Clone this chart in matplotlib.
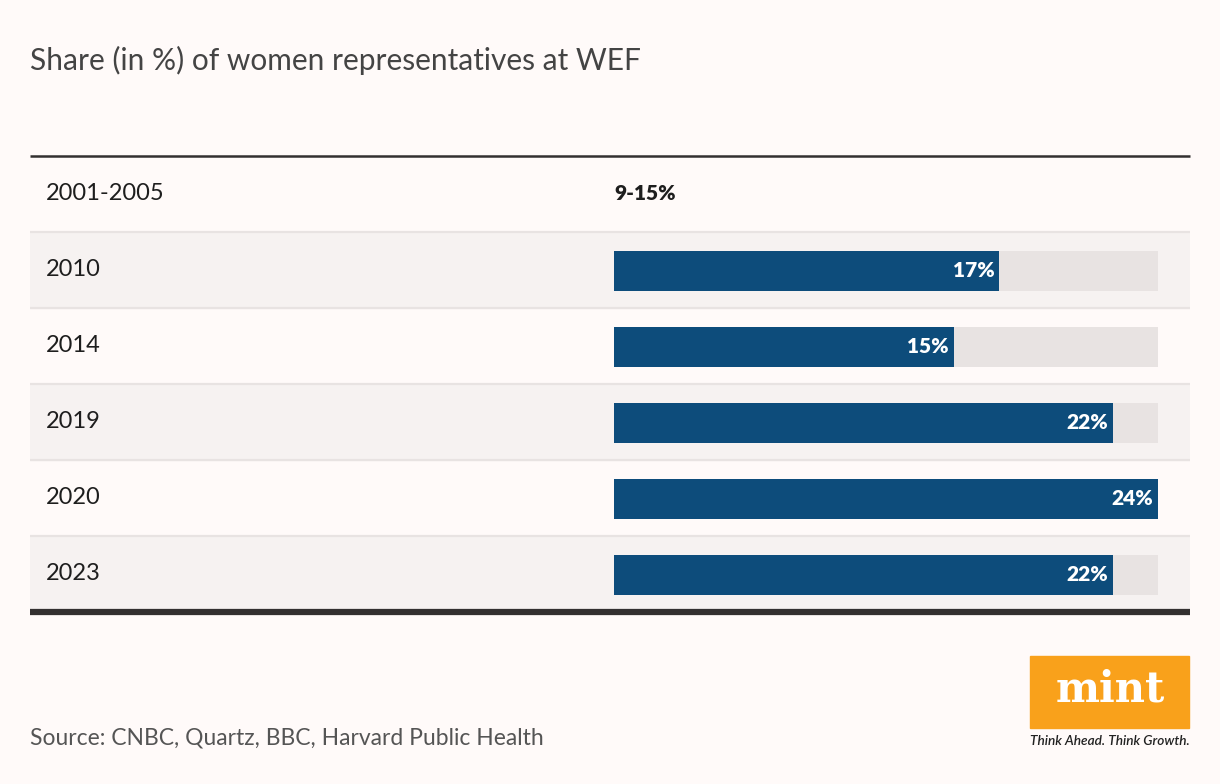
import matplotlib
matplotlib.use("Agg")
from matplotlib import pyplot as plt
from matplotlib.patches import Rectangle

years = ["2001-2005", "2010", "2014", "2019", "2020", "2023"]
shares = [None, 17, 15, 22, 24, 22]
value_labels = ["9-15%", "17%", "15%", "22%", "24%", "22%"]
scale_max = 24

bg = "#fffaf9"
shade = "#f6f2f1"
track = "#e8e3e2"
blue = "#0d4c7b"
dark = "#333030"

W, H = 1220, 784
fig = plt.figure(figsize=(W / 100, H / 100), dpi=100, facecolor=bg)

# table area in pixels
left_px, right_px, top_px, bot_px = 30, 1190, 156, 612
ax = fig.add_axes([left_px / W, 1 - bot_px / H, (right_px - left_px) / W, (bot_px - top_px) / H])
ax.set_facecolor(bg)

# map 0..scale_max onto 614..1158 px
bar0, bar1 = 614, 1158
ppu = (bar1 - bar0) / scale_max
ax.set_xlim(-(bar0 - left_px) / ppu, (right_px - bar0) / ppu)
n = len(years)
ax.set_ylim(n, 0)
ax.axis("off")

for i, (yr, val, lab) in enumerate(zip(years, shares, value_labels)):
    if i % 2 == 1:
        ax.axhspan(i, i + 1, color=shade, zorder=0)
    if i > 0:
        ax.axhline(i, color=track, lw=1.6, zorder=1, solid_capstyle="butt")
    yc = i + 0.5
    ax.text(16 / (right_px - left_px), yc, yr, transform=ax.get_yaxis_transform(),
            ha="left", va="center", fontsize=17, family="Lato", color="#1e1e1e")
    if val is None:
        ax.text(0, yc, lab, ha="left", va="center", fontsize=15, family="Lato",
                weight="heavy", color="#1e1e1e")
    else:
        ax.barh(yc + 0.01, scale_max, height=40 / 76, left=0, color=track, zorder=2)
        ax.barh(yc + 0.01, val, height=40 / 76, left=0, color=blue, zorder=3)
        ax.text(val - 5 / ppu, yc + 0.01, lab, ha="right", va="center", fontsize=15,
                family="Lato", weight="heavy", color="white", zorder=4)

ax.axhline(0, color=dark, lw=1.8, zorder=5, clip_on=False, solid_capstyle="butt")
ax.axhline(n, color=dark, lw=4.5, zorder=5, clip_on=False, solid_capstyle="butt")

fig.text(30 / W, 1 - 60 / H, "Share (in %) of women representatives at WEF", ha="left",
         va="center", fontsize=21.5, family="Lato", color="#444444")
fig.text(30 / W, 1 - 738 / H, "Source: CNBC, Quartz, BBC, Harvard Public Health", ha="left",
         va="center", fontsize=16.5, family="Lato", color="#555555")

# mint logo
fig.patches.append(Rectangle((1030 / W, 1 - 728 / H), 159 / W, 72 / H,
                             transform=fig.transFigure, color="#f9a11b"))
fig.text(1110 / W, 1 - 689 / H, "mint", ha="center", va="center", fontsize=30,
         family="DejaVu Serif", weight="bold", color="white")
fig.text(1110 / W, 1 - 741 / H, "Think Ahead. Think Growth.", ha="center", va="center",
         fontsize=9.8, family="Lato", style="italic", weight="semibold", color="#222222")

fig.savefig("out.png", dpi=100, facecolor=bg)
